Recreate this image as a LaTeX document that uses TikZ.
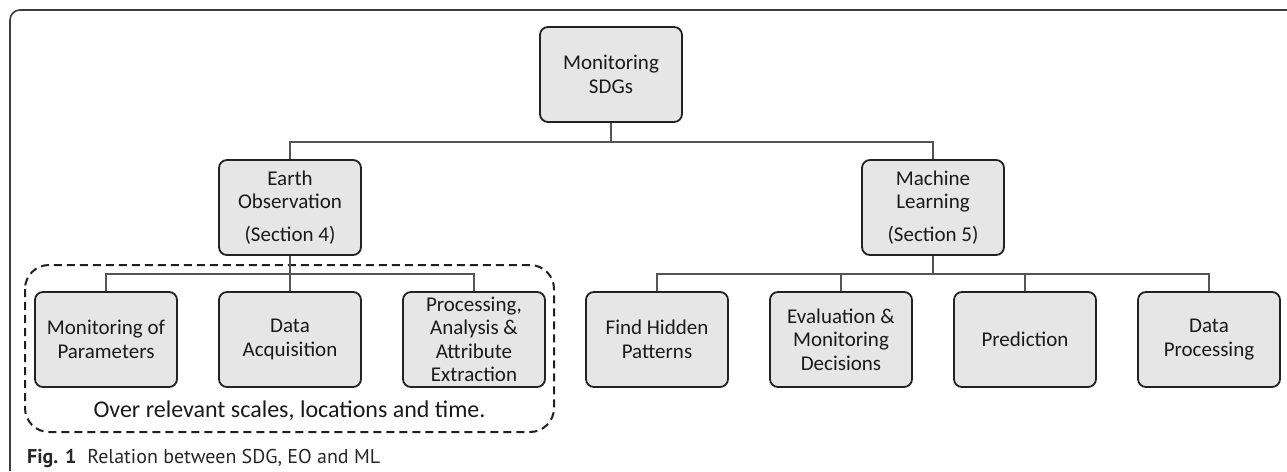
\documentclass[tikz,border=0pt]{standalone}
\usepackage{fontspec}
\setmainfont{Carlito}
\newfontfamily\capfont{PT Sans}
\usetikzlibrary{positioning}
\definecolor{boxfill}{HTML}{E6E6E6}
\definecolor{boxline}{HTML}{222222}
\definecolor{conn}{HTML}{555555}
\definecolor{framecol}{HTML}{3C3C3C}
\definecolor{txt}{HTML}{1A1A1A}
\tikzset{
  x=1pt, y=-1pt,
  gbox/.style={draw=boxline, line width=1.8pt, fill=boxfill, rounded corners=8pt,
    minimum width=142pt, minimum height=95pt, inner sep=0pt, align=center,
    text=txt, font=\fontsize{21}{23.5}\selectfont},
  link/.style={draw=conn, line width=1.3pt},
  dashbox/.style={draw=black!88, line width=2pt, dash pattern=on 8pt off 5pt, rounded corners=24pt},
  framestyle/.style={draw=framecol, line width=1.6pt}
}
\begin{document}
\begin{tikzpicture}
\useasboundingbox (0,0) rectangle (1287,471);
% outer frame (cut by the page on the right and bottom)
\draw[framestyle] (10,471) -- (10,20) arc[start angle=180, end angle=90, radius=10pt] -- (1287,10);

% dashed group
\draw[dashbox] (25,265) rectangle (554,432);

% junction points
\coordinate (j1) at (611,142);
\coordinate (j2) at (290,274);
\coordinate (j3) at (933,274);

\node[gbox] (sdg) at (611,74.5) {Monitoring\\SDGs};
\node[gbox] (eo) at (290,207.5) {Earth\\Observation\\[9.5pt](Section 4)};
\node[gbox] (ml) at (933,207.5) {Machine\\Learning\\[9.5pt](Section 5)};

\node[gbox] (mop) at (106,339.5) {Monitoring of\\Parameters};
\node[gbox] (da) at (290,339.5) {Data\\Acquisition};
\node[gbox] (pae) at (474,339.5) {Processing,\\Analysis \&\\Attribute\\Extraction};

\node[gbox] (fhp) at (657,339.5) {Find Hidden\\Patterns};
\node[gbox] (emd) at (841,339.5) {Evaluation \&\\Monitoring\\Decisions};
\node[gbox] (pred) at (1025,339.5) {Prediction};
\node[gbox] (dp) at (1209,339.5) {Data\\Processing};

\draw[link] (sdg.south) -- (j1) -| (eo.north);
\draw[link] (j1) -| (ml.north);

\draw[link] (eo.south) -- (j2) -- (da.north);
\draw[link] (j2) -| (mop.north);
\draw[link] (j2) -| (pae.north);

\draw[link] (ml.south) -- (j3);
\draw[link] (j3) -| (fhp.north);
\draw[link] (j3) -| (emd.north);
\draw[link] (j3) -| (pred.north);
\draw[link] (j3) -| (dp.north);

\node[anchor=base, text=txt, font=\fontsize{24}{28}\selectfont, inner sep=0pt] (scope) at (289.5,417) {Over relevant scales, locations and time.};

\node[anchor=base west, inner sep=0pt, text=black!85] (cap) at (27,463)
  {\resizebox{353pt}{!}{\capfont\fontsize{20}{24}\selectfont\textbf{Fig. 1}\hspace{0.55em}Relation between SDG, EO and ML}};
\end{tikzpicture}
\end{document}
